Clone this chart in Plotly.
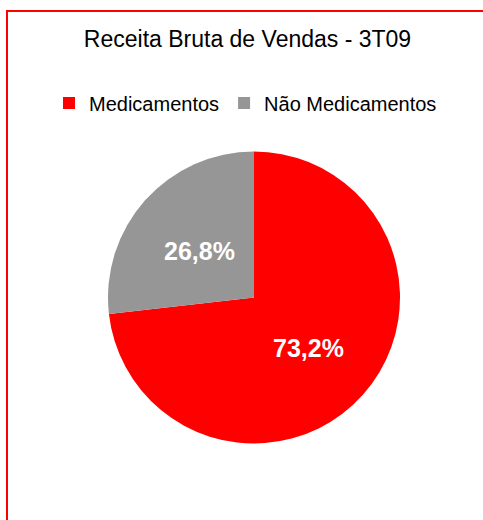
import math
import plotly.graph_objects as go

# data
categorias = ["Medicamentos", "Não Medicamentos"]
participacao = [73.2, 26.8]
rotulos = ["73,2%", "26,8%"]
cores = ["#FF0000", "#969696"]

W, H = 483, 520
# pie geometry in pixels
cx, cy, r = 254, 297.5, 146
FONTE = "Liberation Sans, Arial"

fig = go.Figure()
fig.add_trace(go.Pie(
    labels=categorias,
    values=participacao,
    textinfo="none",
    marker=dict(colors=cores, line=dict(width=0)),
    sort=False,
    direction="clockwise",
    rotation=0,
    hoverinfo="label+percent",
    domain=dict(x=[(cx - r) / W, (cx + r) / W],
                y=[(H - cy - r) / H, (H - cy + r) / H]),
))

# data labels at half radius along each slice's middle angle
total = sum(participacao)
acum = 0
anotacoes = []
for valor, texto in zip(participacao, rotulos):
    meio = (acum + valor / 2) / total * 2 * math.pi
    acum += valor
    px = cx + 0.5 * r * math.sin(meio)
    py = cy - 0.5 * r * math.cos(meio)
    anotacoes.append(dict(
        x=px / W, y=1 - py / H, xref="paper", yref="paper",
        text=texto, showarrow=False, xanchor="center", yanchor="middle",
        yshift=-2,
        font=dict(family=FONTE, size=25, color="white", weight="bold"),
    ))

fig.update_layout(
    width=W, height=H,
    margin=dict(l=0, r=0, t=0, b=0),
    paper_bgcolor="white",
    font=dict(family=FONTE, color="black"),
    title=dict(text="Receita Bruta de Vendas - 3T09",
               font=dict(size=23, color="black"),
               x=247.5 / W, xanchor="center",
               y=1 - 39 / H, yanchor="middle", yref="container"),
    legend=dict(orientation="h", x=49 / W, xanchor="left",
                y=1 - 103 / H, yanchor="middle",
                font=dict(size=20, color="black"),
                itemclick=False, itemdoubleclick=False),
    annotations=anotacoes,
    shapes=[dict(type="rect", xref="paper", yref="paper",
                 x0=7 / W, x1=1.05, y0=-0.05, y1=1 - 11 / H,
                 line=dict(color="#FF0000", width=2))],
)

fig.write_html("out.html", config={"displayModeBar": False},
               post_script="document.body.style.margin = '0';")
